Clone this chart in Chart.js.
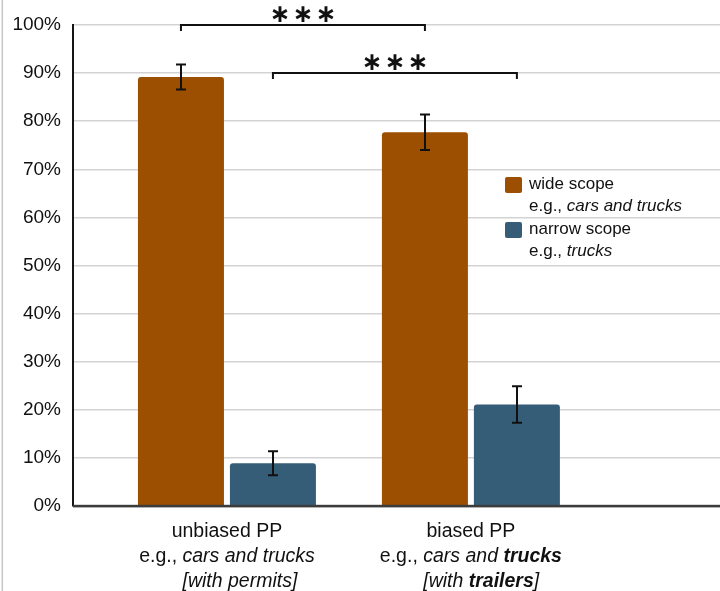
<!DOCTYPE html>
<html>
<head>
<meta charset="utf-8">
<script src="https://cdn.jsdelivr.net/npm/chart.js@4/dist/chart.umd.min.js"></script>
<style>
  html, body { margin: 0; padding: 0; background: #fff; }
  #wrap { position: relative; width: 720px; height: 591px; }
</style>
</head>
<body>
<div id="wrap"><canvas id="chart" width="720" height="591"></canvas></div>
<script>
// ---- data ----
const categories = ['unbiased PP', 'biased PP'];
const categoryNotes = [
  ['e.g., <i>cars and trucks</i>', '<i>[with permits]</i>'],
  ['e.g., <i>cars and <b>trucks</b></i>', '<i>[with <b>trailers</b>]</i>']
];
const seriesNames = ['wide scope', 'narrow scope'];
const seriesNotes = ['e.g., <i>cars and trucks</i>', 'e.g., <i>trucks</i>'];
const wideScope = [89.2, 77.7];
const wideScopeErr = [2.6, 3.7];
const narrowScope = [8.9, 21.1];
const narrowScopeErr = [2.5, 3.8];
const yTicks = [0, 10, 20, 30, 40, 50, 60, 70, 80, 90, 100];
// pairwise comparisons: same series across the two categories
const comparisons = [
  { series: 0, level: 100, mark: '***' },
  { series: 1, level: 90, mark: '***' }
];

const seriesValues = [wideScope, narrowScope];
const seriesErrors = [wideScopeErr, narrowScopeErr];
const seriesColors = ['#9c4f00', '#365d77'];

const FAMILY = '"Liberation Sans", Arial, Helvetica, sans-serif';
const TEXT = '#111';

// tiny markup reader: <i>..</i> italic, <b>..</b> bold
function parseRich(str) {
  const parts = str.split(/(<\/?[ib]>)/);
  const segs = [];
  let italic = false, bold = false;
  for (const p of parts) {
    if (p === '<i>') italic = true;
    else if (p === '</i>') italic = false;
    else if (p === '<b>') bold = true;
    else if (p === '</b>') bold = false;
    else if (p.length) segs.push({ text: p, italic, bold });
  }
  return segs;
}
function segFont(seg, size) {
  return (seg.italic ? 'italic ' : '') + (seg.bold ? 'bold ' : '') + size + 'px ' + FAMILY;
}
function measureRich(ctx, segs, size) {
  let w = 0;
  for (const s of segs) { ctx.font = segFont(s, size); w += ctx.measureText(s.text).width; }
  return w;
}
// draws a line of rich text starting at x; returns x where the first italic run begins
function drawRich(ctx, segs, x, y, size) {
  let cx = x, italicStart = null;
  ctx.textAlign = 'left';
  ctx.textBaseline = 'middle';
  for (const s of segs) {
    ctx.font = segFont(s, size);
    if (s.italic && italicStart === null) italicStart = cx;
    ctx.fillText(s.text, cx, y);
    cx += ctx.measureText(s.text).width;
  }
  return italicStart === null ? x : italicStart;
}

const backdrop = {
  id: 'backdrop',
  beforeDraw(chart) {
    const { ctx, width, height } = chart;
    ctx.save();
    ctx.fillStyle = '#fff';
    ctx.fillRect(0, 0, width, height);
    ctx.fillStyle = '#c9c9c9';
    ctx.fillRect(1.5, 0, 1.6, height);
    ctx.restore();
  }
};

const overlays = {
  id: 'overlays',
  afterDatasetsDraw(chart) {
    const { ctx, chartArea, scales: { y } } = chart;
    ctx.save();
    // category axis line
    ctx.fillStyle = '#3c3c3c';
    ctx.fillRect(chartArea.left, chartArea.bottom - 1.2, chartArea.right - chartArea.left, 2.6);

    // error bars
    ctx.strokeStyle = '#111';
    ctx.lineWidth = 2;
    seriesValues.forEach((vals, d) => {
      const meta = chart.getDatasetMeta(d);
      meta.data.forEach((bar, i) => {
        const e = seriesErrors[d][i];
        const top = y.getPixelForValue(vals[i] + e);
        const bot = y.getPixelForValue(vals[i] - e);
        const x = Math.round(bar.x);
        ctx.beginPath();
        ctx.moveTo(x, top); ctx.lineTo(x, bot);
        ctx.moveTo(x - 5, top); ctx.lineTo(x + 5, top);
        ctx.moveTo(x - 5, bot); ctx.lineTo(x + 5, bot);
        ctx.stroke();
      });
    });

    // significance brackets
    comparisons.forEach(c => {
      const meta = chart.getDatasetMeta(c.series);
      const x1 = meta.data[0].x, x2 = meta.data[meta.data.length - 1].x;
      const yy = Math.round(y.getPixelForValue(c.level));
      ctx.strokeStyle = '#111';
      ctx.lineWidth = 2;
      ctx.beginPath();
      ctx.moveTo(x1, yy + 6); ctx.lineTo(x1, yy); ctx.lineTo(x2, yy); ctx.lineTo(x2, yy + 6);
      ctx.stroke();
      ctx.fillStyle = '#111';
      ctx.font = 'bold 25px "DejaVu Sans", sans-serif';
      ctx.textAlign = 'center';
      ctx.textBaseline = 'middle';
      const n = c.mark.length, mid = (x1 + x2) / 2;
      for (let k = 0; k < n; k++) {
        ctx.fillText('\u2217', mid + (k - (n - 1) / 2) * 23, yy - 10);
      }
    });
    ctx.restore();
  },
  afterDraw(chart) {
    const { ctx, scales: { x } } = chart;
    ctx.save();
    ctx.fillStyle = TEXT;

    // category labels, the bracketed line starts under the italic example
    categories.forEach((name, i) => {
      const cx = x.getPixelForValue(i + 1);
      const size = 19.5;
      const l1 = parseRich(name);
      drawRich(ctx, l1, cx - measureRich(ctx, l1, size) / 2, 532, size);
      const l2 = parseRich(categoryNotes[i][0]);
      const start = drawRich(ctx, l2, cx - measureRich(ctx, l2, size) / 2, 557, size);
      const l3 = parseRich(categoryNotes[i][1]);
      drawRich(ctx, l3, start, 582, size);
    });

    // legend
    const lx = 505, tx = 529, size = 17;
    const rows = [177, 222];
    seriesNames.forEach((name, i) => {
      const top = rows[i];
      ctx.fillStyle = seriesColors[i];
      ctx.beginPath();
      ctx.roundRect(lx, top, 17, 16, 2);
      ctx.fill();
      ctx.fillStyle = TEXT;
      drawRich(ctx, parseRich(name), tx, top + 7.5, size);
      drawRich(ctx, parseRich(seriesNotes[i]), tx, top + 29, size);
    });
    ctx.restore();
  }
};

new Chart(document.getElementById('chart'), {
  type: 'bar',
  data: {
    datasets: seriesNames.map((name, d) => ({
      label: name,
      data: seriesValues[d].map((v, i) => ({ x: i + 1, y: v })),
      backgroundColor: seriesColors[d],
      borderRadius: 3,
      borderSkipped: 'start'
    }))
  },
  options: {
    responsive: false,
    animation: false,
    devicePixelRatio: 1,
    layout: { padding: { top: 25, bottom: 85, left: 0, right: 0 } },
    datasets: { bar: { categoryPercentage: 0.754, barPercentage: 0.935 } },
    scales: {
      x: {
        type: 'linear',
        min: 0.369,
        max: 3.021,
        offset: false,
        afterBuildTicks: s => { s.ticks = categories.map((c, i) => ({ value: i + 1 })); },
        ticks: { display: false },
        grid: { display: false, drawTicks: false },
        border: { display: false }
      },
      y: {
        min: 0,
        max: 100,
        afterBuildTicks: s => { s.ticks = yTicks.map(v => ({ value: v })); },
        afterFit: s => { s.width = 73; },
        ticks: {
          callback: v => v + '%',
          padding: 12,
          color: TEXT,
          font: { family: FAMILY, size: 19 }
        },
        grid: { color: '#d3d3d3', lineWidth: 1.6, drawTicks: false },
        border: { color: '#151515', width: 2 }
      }
    },
    plugins: { legend: { display: false }, tooltip: { enabled: false } }
  },
  plugins: [backdrop, overlays]
});
</script>
</body>
</html>
